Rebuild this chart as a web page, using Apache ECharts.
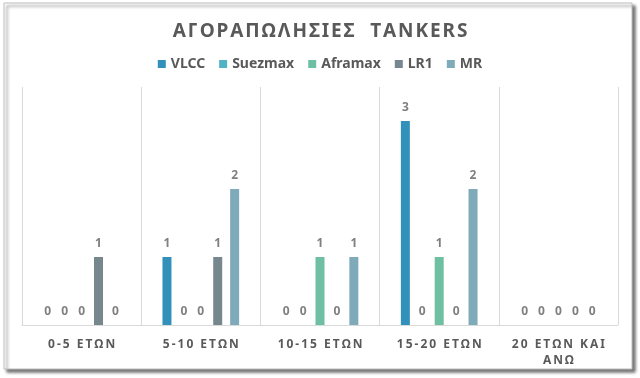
<!DOCTYPE html>
<html>
<head>
<meta charset="utf-8">
<script src="https://cdn.jsdelivr.net/npm/echarts@6/dist/echarts.min.js"></script>
<style>
  html, body { margin: 0; padding: 0; background: #fff; }
  #chart { width: 640px; height: 378px; }
</style>
</head>
<body>
<div id="chart"></div>
<script>
// categories (age groups) and series values
const categories = ['0-5 ΕΤΩΝ', '5-10 ΕΤΩΝ', '10-15 ΕΤΩΝ', '15-20 ΕΤΩΝ', '20 ΕΤΩΝ ΚΑΙ\nΑΝΩ']
const vlcc = [0, 1, 0, 3, 0]
const suezmax = [0, 0, 0, 0, 0]
const aframax = [0, 0, 1, 1, 0]
const lr1 = [1, 1, 0, 0, 0]
const mr = [0, 2, 1, 2, 0]

const FONT = '"Noto Sans", "Open Sans", sans-serif'
// spread letters a little, like the Excel label spacing
const spread = (s, sp) => s.split('\n').map(l => l.split('').join(sp)).join('\n')

const colors = ['#3191bb', '#4fb3c4', '#6fbfa3', '#76888d', '#7eaab9']

function bar (name, data, color) {
  return {
    name: name,
    type: 'bar',
    data: data,
    barWidth: 9,
    barGap: '88%',
    itemStyle: { color: color },
    label: {
      show: true,
      position: 'top',
      distance: 7,
      color: '#7f7f7f',
      fontFamily: FONT,
      fontWeight: 'bold',
      fontSize: 12
    }
  }
}

let myChart = echarts.init(document.getElementById('chart'))
myChart.setOption({
  backgroundColor: '#fff',
  animation: false,
  color: colors,
  graphic: [{
    type: 'rect',
    z: -10,
    shape: { x: 4, y: 3, width: 628, height: 366 },
    style: {
      fill: '#fff',
      stroke: '#bdbdbd',
      lineWidth: 1,
      shadowBlur: 3,
      shadowOffsetX: 3,
      shadowOffsetY: 3,
      shadowColor: 'rgba(0,0,0,0.55)'
    }
  }],
  title: {
    text: spread('ΑΓΟΡΑΠΩΛΗΣΙΕΣ  TANKERS', '\u200a'),
    left: 'center',
    top: 17,
    textStyle: {
      color: '#595959',
      fontFamily: FONT,
      fontWeight: 'bold',
      fontSize: 19
    }
  },
  legend: {
    top: 52,
    left: 'center',
    itemWidth: 8,
    itemHeight: 8,
    itemGap: 14,
    icon: 'rect',
    textStyle: {
      color: '#595959',
      fontFamily: FONT,
      fontWeight: 'bold',
      fontSize: 14
    }
  },
  grid: {
    left: 22,
    right: 22,
    top: 87,
    bottom: 53
  },
  xAxis: {
    type: 'category',
    data: categories,
    axisLine: { lineStyle: { color: '#d9d9d9', width: 1 } },
    axisTick: { show: false },
    splitLine: { show: true, interval: 0, lineStyle: { color: '#d9d9d9', width: 1 } },
    axisLabel: {
      interval: 0,
      margin: 12,
      color: '#595959',
      fontFamily: FONT,
      fontWeight: 'bold',
      fontSize: 12,
      lineHeight: 16,
      formatter: v => spread(v, '\u2009')
    }
  },
  yAxis: {
    type: 'value',
    min: 0,
    max: 3.5,
    show: false,
    splitLine: { show: false }
  },
  series: [
    bar('VLCC', vlcc, colors[0]),
    bar('Suezmax', suezmax, colors[1]),
    bar('Aframax', aframax, colors[2]),
    bar('LR1', lr1, colors[3]),
    bar('MR', mr, colors[4])
  ]
})
</script>
</body>
</html>
